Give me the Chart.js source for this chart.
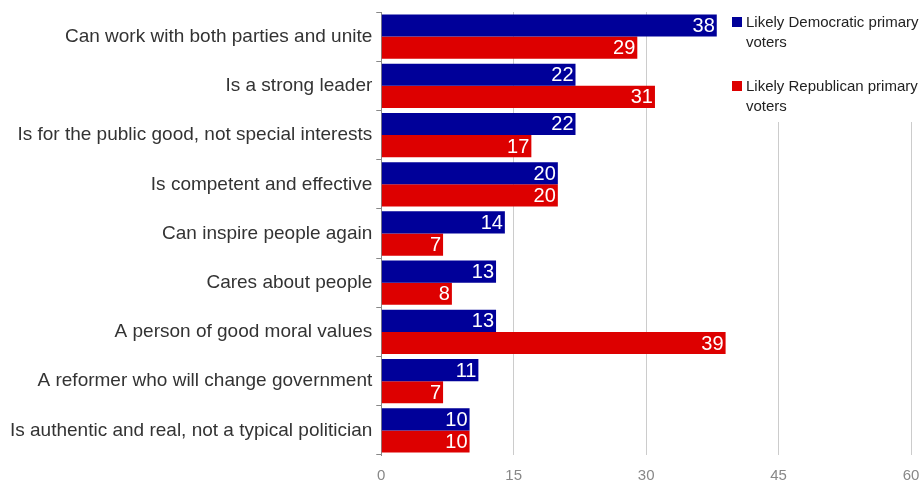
<!DOCTYPE html>
<html>
<head>
<meta charset="utf-8">
<script src="https://cdn.jsdelivr.net/npm/chart.js@4/dist/chart.umd.min.js"></script>
<style>
  html, body { margin: 0; padding: 0; background: #fff; }
  #wrap { width: 924px; height: 483px; }
</style>
</head>
<body>
<div id="wrap"><canvas id="qualities"></canvas></div>
<script>
// categories and values
var qualities = [
    "Can work with both parties and unite",
    "Is a strong leader",
    "Is for the public good, not special interests",
    "Is competent and effective",
    "Can inspire people again",
    "Cares about people",
    "A person of good moral values",
    "A reformer who will change government",
    "Is authentic and real, not a typical politician"
];
var demVoters = [38, 22, 22, 20, 14, 13, 13, 11, 10];
var repVoters = [29, 31, 17, 20, 7, 8, 39, 7, 10];
var xTicks = [0, 15, 30, 45, 60];

var FONT = "'Liberation Sans', Arial, sans-serif";

// white numbers inside the end of each bar
var valueLabels = {
    id: 'valueLabels',
    afterDatasetsDraw: function(chart) {
        var c = chart.ctx;
        c.save();
        c.font = "20px " + FONT;
        c.fillStyle = "#fff";
        c.textAlign = "right";
        c.textBaseline = "middle";
        chart.data.datasets.forEach(function(ds, i) {
            chart.getDatasetMeta(i).data.forEach(function(bar, j) {
                c.fillText(ds.data[j], bar.x - 2, bar.y + 1);
            });
        });
        c.restore();
    }
};

// legend box in the top right, wrapped on two lines like the original
var sideLegend = {
    id: 'sideLegend',
    afterDraw: function(chart) {
        var c = chart.ctx;
        c.save();
        c.fillStyle = "#fff";
        c.fillRect(726, 0, 198, 122);
        c.font = "15px " + FONT;
        c.textBaseline = "middle";
        c.textAlign = "left";
        var tops = [17, 81];
        chart.data.datasets.forEach(function(ds, i) {
            var y = tops[i];
            c.fillStyle = ds.backgroundColor;
            c.fillRect(732, y, 10, 10);
            c.fillStyle = "#222";
            var words = ds.label.split("|");
            c.fillText(words[0], 746, y + 6);
            c.fillText(words[1], 746, y + 26);
        });
        c.restore();
    }
};

var ctx1 = document.getElementById("qualities");
var chart = new Chart(ctx1, {
    type: 'bar',
    data: {
        labels: qualities,
        datasets: [{
            label: "Likely Democratic primary|voters",
            backgroundColor: "#000099",
            data: demVoters,
            categoryPercentage: 0.9,
            barPercentage: 1.0
        }, {
            label: "Likely Republican primary|voters",
            backgroundColor: "#dd0000",
            data: repVoters,
            categoryPercentage: 0.9,
            barPercentage: 1.0
        }]
    },
    options: {
        indexAxis: 'y',
        responsive: true,
        maintainAspectRatio: false,
        animation: false,
        layout: { padding: { top: 12, right: 13, left: 6, bottom: 0 } },
        plugins: {
            legend: { display: false },
            tooltip: { enabled: false }
        },
        scales: {
            x: {
                min: 0,
                max: 60,
                afterBuildTicks: function(axis) {
                    axis.ticks = xTicks.map(function(v) { return { value: v }; });
                },
                afterFit: function(axis) {
                    axis.height = 28;
                    axis.paddingLeft = 0;
                    axis.paddingRight = 0;
                },
                grid: { color: "#cccccc", lineWidth: 1, drawTicks: false },
                border: { display: false },
                ticks: { color: "#888", font: { family: FONT, size: 15 }, padding: 12 }
            },
            y: {
                afterFit: function(axis) {
                    axis.paddingTop = 0;
                    axis.paddingBottom = 0;
                },
                grid: {
                    offset: true,
                    drawOnChartArea: false,
                    drawTicks: true,
                    tickLength: 5,
                    color: "#888"
                },
                border: { display: true, color: "#888" },
                ticks: { color: "#333", font: { family: FONT, size: 19 }, padding: 4 }
            }
        }
    },
    plugins: [valueLabels, sideLegend]
});
</script>
</body>
</html>
